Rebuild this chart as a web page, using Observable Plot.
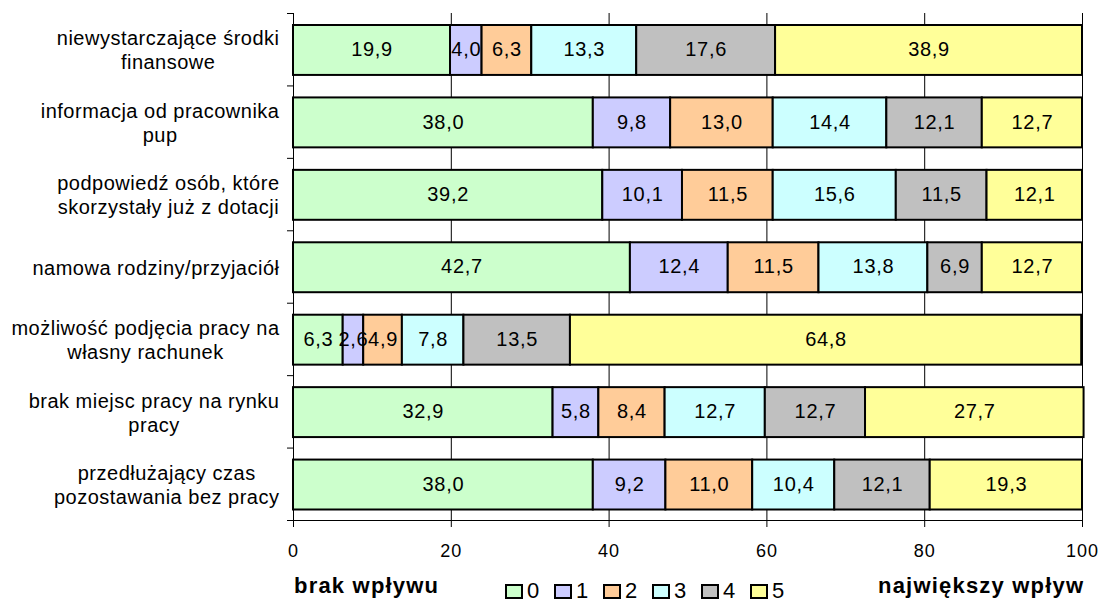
<!DOCTYPE html>
<html>
<head>
<meta charset="utf-8">
<script src="https://cdn.jsdelivr.net/npm/d3@7"></script>
<script src="https://cdn.jsdelivr.net/npm/@observablehq/plot@0.6"></script>
<style>
  html, body { margin: 0; padding: 0; background: #fff; overflow: hidden; }
  #wrap { position: relative; width: 1103px; height: 601px; font-family: "Liberation Sans", Arial, sans-serif; }
  #legend { position: relative; width: 1103px; height: 36px; color: #000; }
  #legend .lbl { position: absolute; font-weight: bold; font-size: 22px; line-height: 22px; letter-spacing: 1.2px; white-space: nowrap; }
  #legend .sw { position: absolute; width: 18px; height: 15px; box-sizing: border-box; border: 2px solid #000; }
  #legend .dg { position: absolute; font-size: 22px; line-height: 16px; letter-spacing: 0.5px; }
</style>
</head>
<body>
<div id="wrap"></div>
<script>
const categories = [
  "niewystarczające środki\nfinansowe",
  "informacja od pracownika\npup",
  "podpowiedź osób, które\nskorzystały już z dotacji",
  "namowa rodziny/przyjaciół",
  "możliwość podjęcia pracy na\nwłasny rachunek",
  "brak miejsc pracy na rynku\npracy",
  "przedłużający czas\npozostawania bez pracy"
];
const seriesNames = ["0", "1", "2", "3", "4", "5"];
const seriesColors = ["#CCFFCC", "#CCCCFF", "#FFCC99", "#CCFFFF", "#C0C0C0", "#FFFF99"];
const v0 = [19.9, 38.0, 39.2, 42.7, 6.3, 32.9, 38.0];
const v1 = [4.0, 9.8, 10.1, 12.4, 2.6, 5.8, 9.2];
const v2 = [6.3, 13.0, 11.5, 11.5, 4.9, 8.4, 11.0];
const v3 = [13.3, 14.4, 15.6, 13.8, 7.8, 12.7, 10.4];
const v4 = [17.6, 12.1, 11.5, 6.9, 13.5, 12.7, 12.1];
const v5 = [38.9, 12.7, 12.1, 12.7, 64.8, 27.7, 19.3];
const xTicks = [0, 20, 40, 60, 80, 100];
const leftLabel = "brak wpływu";
const rightLabel = "największy wpływ";

const series = [v0, v1, v2, v3, v4, v5];
const rows = [];
categories.forEach((c, i) => {
  let acc = 0;
  series.forEach((vals, k) => {
    const v = vals[i];
    rows.push({cat: c, i, k, value: v, x1: acc, x2: acc + v});
    acc += v;
  });
});
const catRows = categories.map((c, i) => ({cat: c, i}));
const fmt = v => v.toFixed(1).replace(".", ",");

const chart = Plot.plot({
  width: 1103,
  height: 565,
  marginLeft: 293,
  marginRight: 21,
  marginTop: 13,
  marginBottom: 45,
  style: {fontFamily: '"Liberation Sans", Arial, sans-serif', color: "#000", background: "#fff"},
  x: {domain: [0, 100]},
  y: {domain: [0, categories.length], reverse: true},
  color: {domain: seriesNames, range: seriesColors},
  marks: [
    Plot.ruleX(xTicks.slice(1), {y1: 0, y2: categories.length, stroke: "#000", strokeWidth: 1}),
    Plot.rect(rows, {
      x1: "x1", x2: "x2",
      y1: d => d.i, y2: d => d.i + 1,
      insetTop: 12, insetBottom: 10.5,
      fill: d => seriesNames[d.k],
      stroke: "#000", strokeWidth: 2
    }),
    Plot.text(rows, {
      x: d => (d.x1 + d.x2) / 2,
      y: d => d.i + 0.5,
      text: d => fmt(d.value),
      fontSize: 20, fill: "#000", className: "barlbl"
    }),
    Plot.text(catRows, {
      x: () => 0, y: d => d.i + 0.5,
      text: "cat", dx: -14, textAnchor: "end",
      lineHeight: 1.2, fontSize: 20, fill: "#000", className: "catlbl"
    }),
    Plot.ruleX([0], {y1: 0, y2: categories.length, stroke: "#000"}),
    Plot.ruleY([categories.length], {x1: 0, x2: 100, stroke: "#000"}),
    Plot.axisY({ticks: d3.range(categories.length + 1), tickSize: 6, tickFormat: () => "", label: null, stroke: "#000"}),
    Plot.axisX({ticks: xTicks, tickSize: 7, tickPadding: 17, fontSize: 18, label: null, stroke: "#000", className: "xax"})
  ]
});

const wrap = document.getElementById("wrap");
wrap.appendChild(chart);

// letter spacing tweaks
d3.select(chart).selectAll(".barlbl text").style("letter-spacing", "0.7px");
d3.select(chart).selectAll(".xax text").style("letter-spacing", "1px");
// multi-line category labels: centre lines within a right-aligned block
d3.select(chart).selectAll(".catlbl text").each(function() {
  this.style.letterSpacing = "0.5px";
  const tspans = this.querySelectorAll("tspan");
  if (tspans.length > 1) {
    let w = 0;
    tspans.forEach(t => { w = Math.max(w, t.getComputedTextLength()); });
    this.setAttribute("text-anchor", "middle");
    tspans.forEach(t => t.setAttribute("x", -w / 2));
  }
});

// legend below the svg
const legend = document.createElement("div");
legend.id = "legend";
const top0 = 565;
const addLbl = (txt, left) => {
  const s = document.createElement("span");
  s.className = "lbl";
  s.textContent = txt;
  s.style.left = left + "px";
  s.style.top = (594 - 18.6 - top0) + "px";
  legend.appendChild(s);
};
addLbl(leftLabel, 294);
addLbl(rightLabel, 878);
seriesNames.forEach((n, k) => {
  const x = 505 + k * 49;
  const sw = document.createElement("div");
  sw.className = "sw";
  sw.style.left = x + "px";
  sw.style.top = (584 - top0) + "px";
  sw.style.background = seriesColors[k];
  legend.appendChild(sw);
  const dg = document.createElement("span");
  dg.className = "dg";
  dg.textContent = n;
  dg.style.left = (x + 22) + "px";
  dg.style.top = (598.5 - 15.6 - top0) + "px";
  legend.appendChild(dg);
});
wrap.appendChild(legend);
</script>
</body>
</html>
